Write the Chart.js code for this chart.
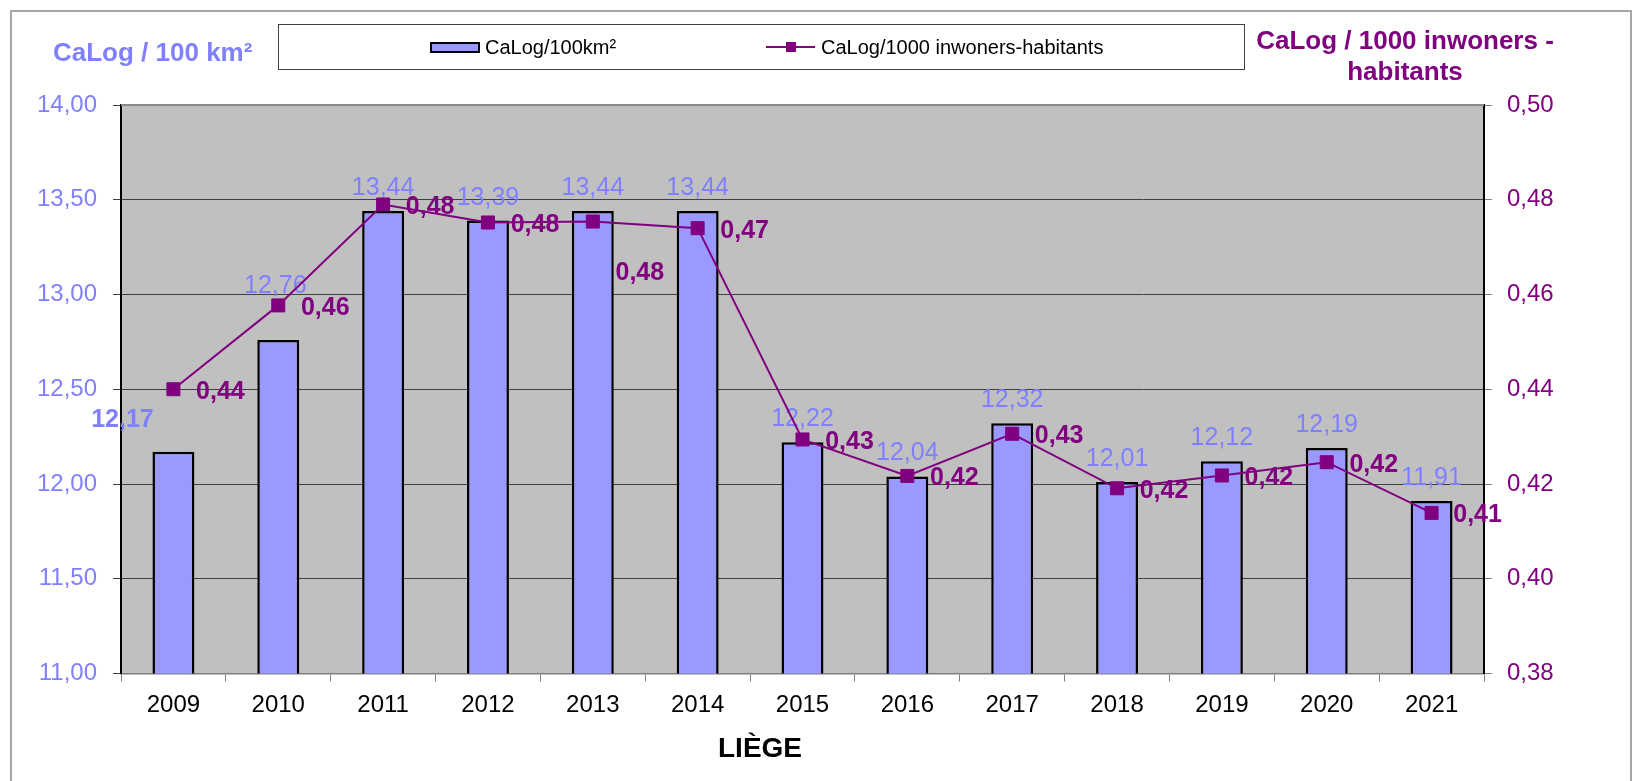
<!DOCTYPE html>
<html>
<head>
<meta charset="utf-8">
<script src="https://cdn.jsdelivr.net/npm/chart.js@4.4.1/dist/chart.umd.min.js"></script>
<style>
  html, body { margin:0; padding:0; background:#fff; width:1639px; height:781px; overflow:hidden;
    font-family:"Liberation Sans", Arial, sans-serif; }
  #c { position:absolute; left:0; top:0; }
  #frame { position:absolute; left:10px; top:10px; width:1622px; height:800px; box-sizing:border-box;
    border:2px solid #a6a6a6; pointer-events:none; }
  .t { position:absolute; white-space:nowrap; line-height:1; transform:translateY(-50%); }
  #legend { position:absolute; left:278px; top:24px; width:967px; height:46px; box-sizing:border-box;
    border:1px solid #404040; background:#fff; }
</style>
</head>
<body>
<div id="frame"></div>
<canvas id="c" width="1639" height="781"></canvas>

<div class="t" style="left:53px; top:52px; font-size:26px; font-weight:bold; color:#8080ff;">CaLog / 100 km²</div>
<div class="t" style="left:1405px; top:40px; font-size:26px; font-weight:bold; color:#800080; transform:translate(-50%,-50%);">CaLog / 1000 inwoners -</div>
<div class="t" style="left:1405px; top:71px; font-size:26px; font-weight:bold; color:#800080; transform:translate(-50%,-50%);">habitants</div>
<div class="t" style="left:760px; top:748px; font-size:28px; font-weight:bold; color:#000; transform:translate(-50%,-50%);">LIÈGE</div>

<div id="legend"></div>
<div style="position:absolute; left:430px; top:42px; width:50px; height:11px; box-sizing:border-box; border:2px solid #000; background:#9999ff;"></div>
<div class="t" style="left:485px; top:47px; font-size:20px; color:#000;">CaLog/100km²</div>
<div style="position:absolute; left:766px; top:46px; width:49px; height:2px; background:#800080;"></div>
<div style="position:absolute; left:786px; top:42px; width:10px; height:10px; background:#800080;"></div>
<div class="t" style="left:821px; top:47px; font-size:20px; color:#000;">CaLog/1000 inwoners-habitants</div>

<script>
// ---- data ----
const years = ['2009','2010','2011','2012','2013','2014','2015','2016','2017','2018','2019','2020','2021'];
const calogPer100km2 = [12.17, 12.76, 13.44, 13.39, 13.44, 13.44, 12.22, 12.04, 12.32, 12.01, 12.12, 12.19, 11.91];
const calogPer1000Inhabitants = [0.4400, 0.4577, 0.4790, 0.4752, 0.4754, 0.4740, 0.4294, 0.4217, 0.4306, 0.4191, 0.4218, 0.4246, 0.4139];
const leftTicks = [11.0, 11.5, 12.0, 12.5, 13.0, 13.5, 14.0];
const rightTicks = [0.38, 0.40, 0.42, 0.44, 0.46, 0.48, 0.50];

const FONT = '"Liberation Sans", Arial, sans-serif';
const fmt = v => Number(v).toFixed(2).replace('.', ',');

// label placement (offsets from the mark, in px)
const barLabelOffsets = { default: [0, -25], 0: [-51, -34], 1: [-3, -56] };
const barLabelBold = { 0: true };
const lineLabelOffsets = { default: [47, 0.5], 4: [47, 50], 12: [46, 0.5] };

const plotFrame = {
  id: 'plotFrame',
  beforeDraw(chart) {
    const { ctx, chartArea: a } = chart;
    ctx.save();
    ctx.fillStyle = '#c0c0c0';
    ctx.fillRect(a.left, a.top, a.right - a.left, a.bottom - a.top);
    ctx.restore();
  },
  beforeDatasetsDraw(chart) {
    const { ctx, chartArea: a } = chart;
    ctx.save();
    ctx.strokeStyle = '#8a8a8a';
    ctx.lineWidth = 2;
    ctx.beginPath();
    ctx.moveTo(a.left, a.top);
    ctx.lineTo(a.right, a.top);
    ctx.stroke();
    ctx.restore();
  }
};

const valueLabels = {
  id: 'valueLabels',
  afterDatasetDraw(chart, args) {
    const ds = chart.data.datasets[args.index];
    if (ds.type !== 'bar') return;
    const { ctx } = chart;
    const meta = chart.getDatasetMeta(args.index);
    ctx.save();
    ctx.fillStyle = '#8080ff';
    ctx.textAlign = 'center';
    ctx.textBaseline = 'alphabetic';
    const size = 25;
    meta.data.forEach((el, i) => {
      const off = barLabelOffsets[i] || barLabelOffsets.default;
      ctx.font = (barLabelBold[i] ? 'bold ' : '') + size + 'px ' + FONT;
      ctx.fillText(fmt(ds.data[i]), el.x + off[0], el.y + off[1] + 0.358 * size);
    });
    ctx.restore();
  },
  afterDatasetsDraw(chart) {
    const { ctx } = chart;
    chart.data.datasets.forEach((ds, di) => {
      if (ds.type !== 'line') return;
      const meta = chart.getDatasetMeta(di);
      ctx.save();
      ctx.fillStyle = '#800080';
      ctx.textAlign = 'center';
      ctx.textBaseline = 'alphabetic';
      const size = 25;
      ctx.font = 'bold ' + size + 'px ' + FONT;
      meta.data.forEach((el, i) => {
        const off = lineLabelOffsets[i] || lineLabelOffsets.default;
        ctx.fillText(fmt(ds.data[i]), el.x + off[0], el.y + off[1] + 0.358 * size);
      });
      ctx.restore();
    });
  }
};

new Chart(document.getElementById('c'), {
  type: 'bar',
  data: {
    labels: years,
    datasets: [
      {
        type: 'line',
        label: 'CaLog/1000 inwoners-habitants',
        data: calogPer1000Inhabitants,
        yAxisID: 'y1',
        borderColor: '#800080',
        backgroundColor: '#800080',
        borderWidth: 2,
        pointStyle: 'rect',
        pointRadius: 9.2,
        pointBorderWidth: 1,
        pointBorderColor: '#800080',
        pointBackgroundColor: '#800080',
        tension: 0,
        order: 0
      },
      {
        type: 'bar',
        label: 'CaLog/100km²',
        data: calogPer100km2,
        yAxisID: 'y',
        backgroundColor: '#9999ff',
        borderColor: '#000000',
        borderWidth: 2.5,
        borderSkipped: false,
        barPercentage: 0.4,
        categoryPercentage: 1.0,
        order: 1
      }
    ]
  },
  options: {
    responsive: false,
    animation: false,
    events: [],
    layout: { padding: { top: 105, left: 0, right: 0, bottom: 0 } },
    plugins: { legend: { display: false }, tooltip: { enabled: false } },
    scales: {
      x: {
        offset: true,
        grid: { display: true, drawOnChartArea: false, drawTicks: true, tickLength: 8, color: '#808080', offset: true },
        border: { display: true, color: '#808080', width: 1.5 },
        ticks: { color: '#000', font: { family: FONT, size: 24 }, padding: 9, maxRotation: 0, autoSkip: false },
        afterFit(s) { s.height = 107.5; }
      },
      y: {
        position: 'left',
        min: 11, max: 14,
        afterBuildTicks(s) { s.ticks = leftTicks.map(v => ({ value: v })); },
        grid: { color: '#404040', lineWidth: 1, drawTicks: true, tickLength: 8 },
        border: { display: true, color: '#000', width: 2 },
        ticks: { color: '#8080ff', font: { family: FONT, size: 24 }, padding: 16, callback: v => fmt(v) },
        afterFit(s) { s.width = 121; }
      },
      y1: {
        position: 'right',
        min: 0.38, max: 0.50,
        afterBuildTicks(s) { s.ticks = rightTicks.map(v => ({ value: v })); },
        grid: { drawOnChartArea: false, drawTicks: true, tickLength: 8, color: '#808080' },
        border: { display: true, color: '#000', width: 2 },
        ticks: { color: '#800080', font: { family: FONT, size: 24 }, padding: 15, callback: v => fmt(v) },
        afterFit(s) { s.width = 155; }
      }
    }
  },
  plugins: [plotFrame, valueLabels]
});
</script>
</body>
</html>
